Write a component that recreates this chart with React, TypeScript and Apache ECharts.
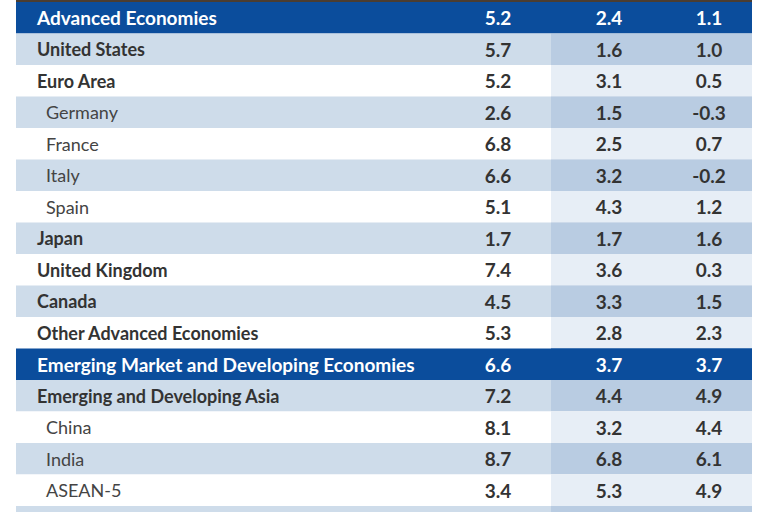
import React, { useEffect, useRef } from "react";
import * as echarts from "echarts";

const rowLabels = [
  "Advanced Economies",
  "United States",
  "Euro Area",
  "Germany",
  "France",
  "Italy",
  "Spain",
  "Japan",
  "United Kingdom",
  "Canada",
  "Other Advanced Economies",
  "Emerging Market and Developing Economies",
  "Emerging and Developing Asia",
  "China",
  "India",
  "ASEAN-5",
  "",
];
const rowKinds = [
  "header", "main", "main", "sub", "sub", "sub", "sub", "main", "main", "main", "main",
  "header", "main", "sub", "sub", "sub", "main",
];
const col1 = [5.2, 5.7, 5.2, 2.6, 6.8, 6.6, 5.1, 1.7, 7.4, 4.5, 5.3, 6.6, 7.2, 8.1, 8.7, 3.4, null];
const col2 = [2.4, 1.6, 3.1, 1.5, 2.5, 3.2, 4.3, 1.7, 3.6, 3.3, 2.8, 3.7, 4.4, 3.2, 6.8, 5.3, null];
const col3 = [1.1, 1.0, 0.5, -0.3, 0.7, -0.2, 1.2, 1.6, 0.3, 1.5, 2.3, 3.7, 4.9, 4.4, 6.1, 4.9, null];

const FONT = "Lato, 'Open Sans', sans-serif";

export default function App() {
  const ref = useRef<HTMLDivElement>(null);
  useEffect(() => {
    if (!ref.current) return;
    const chart = echarts.init(ref.current, null, { renderer: "svg" });
    let lightCount = 0;
    const shade: string[] = [];
    rowKinds.forEach((k) => {
      if (k === "header") {
        shade.push("header");
        lightCount = 0;
      } else {
        shade.push(lightCount % 2 === 0 ? "light" : "white");
        lightCount++;
      }
    });
    const colX = [482, 593, 693];
    const overlayStart = 535;
    const W = 736;
    const rowH = 31.5;
    const gridH = 510;
    chart.setOption({
      animation: false,
      grid: { left: 16, top: 2, width: 736, height: gridH },
      xAxis: { type: "value", min: 0, max: W, show: false },
      yAxis: { type: "value", min: 0, max: gridH / rowH, inverse: true, show: false },
      graphic: [
        { type: "rect", shape: { x: 16, y: 0, width: 736, height: 2 }, style: { fill: "#4b3d31" } },
      ],
      series: [
        {
          type: "custom",
          clip: true,
          data: rowLabels.map((_, i) => [0, i + 0.5, i]),
          encode: { x: 0, y: 1 },
          renderItem: (params: any, api: any) => {
            const i = api.value(2);
            const c = api.coord([0, i + 0.5]);
            const x0 = c[0];
            const yc = c[1];
            const h = api.size([0, 1])[1];
            const x1 = api.coord([W, i])[0];
            const xo = api.coord([overlayStart, i])[0];
            const kind = rowKinds[i];
            const s = shade[i];
            const bg = s === "header" ? "#0b4d9c" : s === "light" ? "#cedcea" : "#ffffff";
            const ov = s === "header" ? "#0b4d9c" : s === "light" ? "#b9cce2" : "#e7eef6";
            const textColor = s === "header" ? "#ffffff" : "#333333";
            const children: any[] = [
              { type: "rect", shape: { x: x0, y: yc - h / 2, width: x1 - x0, height: h }, style: { fill: bg } },
              { type: "rect", shape: { x: xo, y: yc - h / 2, width: x1 - xo, height: h }, style: { fill: ov } },
            ];
            const lx = api.coord([kind === "sub" ? 30 : 21, i])[0];
            children.push({
              type: "text",
              style: {
                text: rowLabels[i],
                x: lx,
                y: yc,
                fill: kind === "sub" ? "#444444" : textColor,
                fontSize: kind === "header" ? 19 : 18,
                fontWeight: kind === "sub" ? "normal" : "bold",
                fontFamily: FONT,
                align: "left",
                verticalAlign: "middle",
              },
            });
            [col1, col2, col3].forEach((col, j) => {
              const v = col[i];
              if (v === null || v === undefined) return;
              children.push({
                type: "text",
                style: {
                  text: v.toFixed(1),
                  x: api.coord([colX[j], i])[0],
                  y: yc,
                  fill: textColor,
                  fontSize: 19,
                  fontWeight: "bold",
                  fontFamily: FONT,
                  align: "center",
                  verticalAlign: "middle",
                },
              });
            });
            return { type: "group", children };
          },
        },
      ],
    });
    return () => chart.dispose();
  }, []);
  return (
    <div
      ref={ref}
      style={{ position: "fixed", left: 0, top: 0, width: 768, height: 512, background: "#ffffff" }}
    />
  );
}
